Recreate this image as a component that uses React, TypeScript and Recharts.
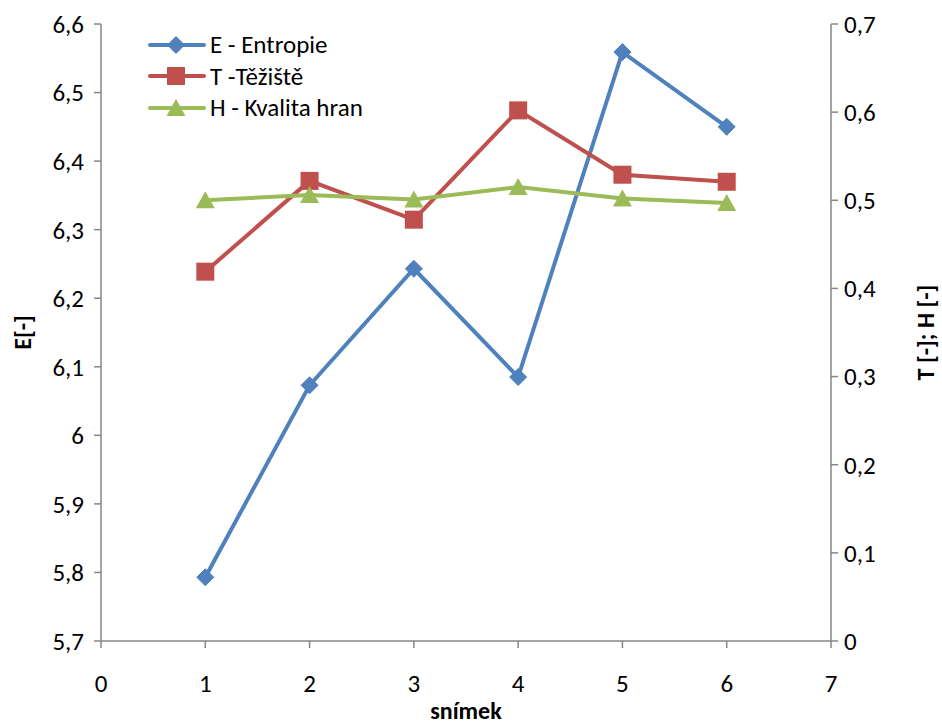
import React from "react";
import { LineChart, Line, XAxis, YAxis } from "recharts";

const snimky = [1, 2, 3, 4, 5, 6];
const entropie = [5.793, 6.073, 6.243, 6.085, 6.559, 6.45];
const teziste = [0.419, 0.522, 0.478, 0.602, 0.529, 0.521];
const kvalitaHran = [0.5, 0.506, 0.501, 0.515, 0.502, 0.497];

const xTicks = [0, 1, 2, 3, 4, 5, 6, 7];
const eTicks = [5.7, 5.8, 5.9, 6, 6.1, 6.2, 6.3, 6.4, 6.5, 6.6];
const thTicks = [0, 0.1, 0.2, 0.3, 0.4, 0.5, 0.6, 0.7];

const BLUE = "#4F81BD";
const RED = "#C0504D";
const GREEN = "#9BBB59";
const AXIS = "#868686";
const FONT = "Calibri, Carlito, Lato, sans-serif";

const data = snimky.map((s, i) => ({
  snimek: s,
  E: entropie[i],
  T: teziste[i],
  H: kvalitaHran[i],
}));

const fmt = (v: number) => String(v).replace(".", ",");

function Marker({ kind, cx, cy }: { kind: string; cx: number; cy: number }) {
  if (kind === "E") {
    const r = 8.5;
    return (
      <path
        d={`M${cx},${cy - r}L${cx + r},${cy}L${cx},${cy + r}L${cx - r},${cy}Z`}
        fill={BLUE}
        stroke={BLUE}
        strokeWidth={1}
      />
    );
  }
  if (kind === "T") {
    const h = 9;
    return <rect x={cx - h} y={cy - h} width={2 * h} height={2 * h} fill={RED} />;
  }
  const w = 9.5;
  return (
    <path
      d={`M${cx},${cy - 9}L${cx + w},${cy + 8}L${cx - w},${cy + 8}Z`}
      fill={GREEN}
    />
  );
}

const dotFor = (kind: string) => (props: any) => (
  <Marker key={`${kind}-${props.index}`} kind={kind} cx={props.cx} cy={props.cy} />
);

const legendRows = [
  { key: "E", label: "E - Entropie", color: BLUE },
  { key: "T", label: "T -Těžiště", color: RED },
  { key: "H", label: "H - Kvalita hran", color: GREEN },
];

// legend sits inside the plot, top left, like the Excel original
function ChartLegend() {
  return (
    <div
      style={{
        position: "absolute",
        top: 29,
        left: 148,
        fontFamily: FONT,
        fontSize: 25,
        color: "#000",
      }}
    >
      {legendRows.map((row) => (
        <div key={row.key} style={{ display: "flex", alignItems: "center", height: 31.5 }}>
          <svg width={58} height={24} style={{ marginRight: 4 }}>
            <line x1={2} y1={12} x2={56} y2={12} stroke={row.color} strokeWidth={4} strokeLinecap="round" />
            <Marker kind={row.key} cx={28} cy={12} />
          </svg>
          <span>{row.label}</span>
        </div>
      ))}
    </div>
  );
}

const tickStyle = { fontFamily: FONT, fontSize: 25, fill: "#000" };
const titleStyle = { fontFamily: FONT, fontSize: 24, fontWeight: 700, fill: "#000", textAnchor: "middle" as const };

export default function App() {
  return (
    <div style={{ position: "relative", width: 942, height: 726, background: "#fff" }}>
      <style>{"body{margin:0}"}</style>
      <LineChart
        width={942}
        height={726}
        data={data}
        margin={{ top: 24, right: 0, bottom: 0, left: 0 }}
      >
        <XAxis
          dataKey="snimek"
          type="number"
          domain={[0, 7]}
          ticks={xTicks}
          allowDataOverflow
          stroke={AXIS}
          strokeWidth={1.5}
          tickSize={7}
          tickMargin={26}
          tick={tickStyle}
          height={85}
          label={{ value: "snímek", position: "insideBottom", offset: 7, style: titleStyle }}
        />
        <YAxis
          yAxisId="left"
          orientation="left"
          domain={[5.7, 6.6]}
          ticks={eTicks}
          allowDataOverflow
          tickFormatter={fmt}
          stroke={AXIS}
          strokeWidth={1.5}
          tickSize={7}
          tickMargin={10}
          tick={tickStyle}
          width={101}
          label={{ value: "E[-]", angle: -90, position: "insideLeft", offset: 22, style: titleStyle }}
        />
        <YAxis
          yAxisId="right"
          orientation="right"
          domain={[0, 0.7]}
          ticks={thTicks}
          allowDataOverflow
          tickFormatter={fmt}
          stroke={AXIS}
          strokeWidth={1.5}
          tickSize={7}
          tickMargin={6}
          tick={tickStyle}
          width={111}
          label={{ value: "T [-]; H [-]", angle: -90, position: "insideRight", offset: 17, style: titleStyle }}
        />
        <Line
          yAxisId="left"
          dataKey="E"
          stroke={BLUE}
          strokeWidth={4}
          dot={dotFor("E")}
          activeDot={false}
          isAnimationActive={false}
        />
        <Line
          yAxisId="right"
          dataKey="T"
          stroke={RED}
          strokeWidth={4}
          dot={dotFor("T")}
          activeDot={false}
          isAnimationActive={false}
        />
        <Line
          yAxisId="right"
          dataKey="H"
          stroke={GREEN}
          strokeWidth={4}
          dot={dotFor("H")}
          activeDot={false}
          isAnimationActive={false}
        />
      </LineChart>
      <ChartLegend />
    </div>
  );
}
